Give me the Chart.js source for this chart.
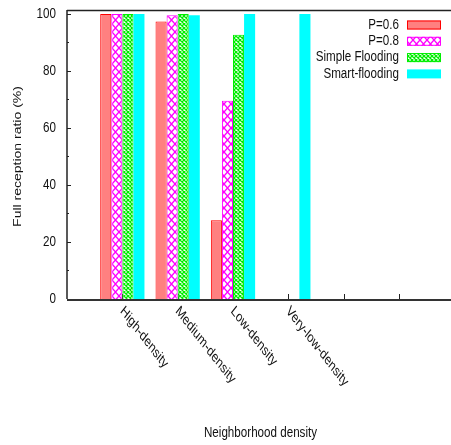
<!DOCTYPE html>
<html>
<head>
<meta charset="utf-8">
<script src="https://cdn.jsdelivr.net/npm/chart.js@4.4.0/dist/chart.umd.min.js"></script>
<style>
  html, body { margin: 0; padding: 0; background: #fff; overflow: hidden; }
  #wrap { width: 451px; height: 445px; }
</style>
</head>
<body>
<div id="wrap"><canvas id="chart" width="451" height="445"></canvas></div>
<script>
// values
const categories = ['High-density', 'Medium-density', 'Low-density', 'Very-low-density', '', ''];
const seriesNames = ['P=0.6', 'P=0.8', 'Simple Flooding', 'Smart-flooding'];
const p06 = [100, 97.4, 27.6, 0, 0, 0];
const p08 = [100, 99.6, 69.6, 0, 0, 0];
const simpleFlooding = [100, 100, 92.7, 0, 0, 0];
const smartFlooding = [100, 99.6, 100, 100, 0, 0];
const yTicks = [0, 20, 40, 60, 80, 100];
const xTitle = 'Neighborhood density';
const yTitle = 'Full reception ratio (%)';

const FONT = '14px "Liberation Sans", Arial, sans-serif';
const SX = 0.83; // gnuplot output looks squeezed sideways

function hatch(color, w, h, lw) {
  const c = document.createElement('canvas');
  c.width = w; c.height = h;
  const g = c.getContext('2d');
  g.fillStyle = '#fff';
  g.fillRect(0, 0, w, h);
  g.strokeStyle = color;
  g.lineWidth = lw;
  g.beginPath();
  g.moveTo(0, 0); g.lineTo(w, h);
  g.moveTo(w, 0); g.lineTo(0, h);
  g.stroke();
  return g.createPattern(c, 'repeat');
}

function text(ctx, s, x, y, align, baseline, angle, sx, font) {
  ctx.save();
  ctx.translate(x, y);
  ctx.scale(sx || SX, 1);
  ctx.rotate(angle || 0);
  ctx.font = font || FONT;
  ctx.fillStyle = '#111';
  ctx.textAlign = align;
  ctx.textBaseline = baseline;
  ctx.fillText(s, 0, 0);
  ctx.restore();
}

const toPoints = arr => arr.map((v, i) => ({ x: i, y: v }));

const gnuplotLook = {
  id: 'gnuplotLook',
  beforeDatasetsDraw(chart) {
    const { ctx, chartArea: a, scales: { x, y } } = chart;
    ctx.save();
    ctx.strokeStyle = '#222';
    ctx.lineWidth = 1;
    yTicks.forEach((v, i) => {
      const py = Math.round(y.getPixelForValue(v)) + 0.5;
      ctx.beginPath(); ctx.moveTo(a.left, py); ctx.lineTo(a.left + 4, py); ctx.stroke();
      if (i < yTicks.length - 1) {
        const my = Math.round(y.getPixelForValue((v + yTicks[i + 1]) / 2)) + 0.5;
        ctx.beginPath(); ctx.moveTo(a.left, my); ctx.lineTo(a.left + 2, my); ctx.stroke();
      }
    });
    categories.forEach((c, i) => {
      const px = Math.round(x.getPixelForValue(i)) + 0.5;
      ctx.beginPath(); ctx.moveTo(px, a.bottom); ctx.lineTo(px, a.bottom - 5); ctx.stroke();
    });
    ctx.restore();
  },
  afterDatasetsDraw(chart) {
    const { ctx, chartArea: a, scales: { x, y } } = chart;
    ctx.save();
    // border: top, left, bottom
    ctx.strokeStyle = '#222';
    ctx.lineWidth = 1.5;
    ctx.beginPath(); ctx.moveTo(a.left, a.top + 0.5); ctx.lineTo(a.right, a.top + 0.5); ctx.stroke();
    ctx.beginPath(); ctx.moveTo(a.left, a.top); ctx.lineTo(a.left, a.bottom); ctx.stroke();
    ctx.strokeStyle = '#333';
    ctx.lineWidth = 2;
    ctx.beginPath(); ctx.moveTo(a.left, a.bottom + 1); ctx.lineTo(a.right, a.bottom + 1); ctx.stroke();

    // tick labels
    yTicks.forEach(v => text(ctx, String(v), a.left - 11, y.getPixelForValue(v) + 0.5, 'right', 'middle'));
    categories.forEach((c, i) => {
      if (c) text(ctx, c, x.getPixelForValue(i) - 0.5, a.bottom + 10, 'left', 'middle', Math.PI / 4, 0.78,
        '14.5px "Liberation Sans", Arial, sans-serif');
    });

    // axis titles
    text(ctx, yTitle, 18, (a.top + a.bottom) / 2 + 2, 'center', 'middle', -Math.PI / 2);
    text(ctx, xTitle, (a.left + a.right) / 2 + 1.5, 433, 'center', 'middle');

    // key, top right inside the plot
    chart.data.datasets.forEach((ds, i) => {
      const cy = a.top + 15 + i * 16.3;
      text(ctx, ds.label, a.right - 52, cy, 'right', 'middle');
      const bx = a.right - 44, bw = 34, bh = 9;
      ctx.fillStyle = ds.backgroundColor;
      ctx.fillRect(bx, cy - bh / 2, bw, bh);
      if (ds.borderWidth) {
        ctx.strokeStyle = ds.borderColor;
        ctx.lineWidth = 1;
        ctx.strokeRect(bx + 0.5, cy - bh / 2 + 0.5, bw - 1, bh - 1);
      }
    });
    ctx.restore();
  }
};

const series = [p06, p08, simpleFlooding, smartFlooding];
const fills = [
  '#ff8080',
  hatch('#ff00ff', 7, 8, 1.4),
  hatch('#00ee00', 4, 4, 1.3),
  '#00ffff'
];
const borders = ['#ff0000', '#ff00ff', '#00ee00', '#00ffff'];

new Chart(document.getElementById('chart'), {
  type: 'bar',
  data: {
    datasets: series.map((s, i) => ({
      label: seriesNames[i],
      data: toPoints(s),
      backgroundColor: fills[i],
      borderColor: borders[i],
      borderWidth: i === 3 ? 0 : 1,
      borderSkipped: 'start',
      categoryPercentage: 0.8,
      barPercentage: 1.0
    }))
  },
  options: {
    responsive: false,
    animation: false,
    layout: { padding: { top: 10, left: 0, right: 0, bottom: 0 } },
    plugins: { legend: { display: false }, tooltip: { enabled: false } },
    scales: {
      x: {
        type: 'linear',
        min: -1,
        max: 5.94,
        offset: false,
        grid: { display: false, offset: false },
        border: { display: false },
        ticks: { display: false, stepSize: 1, includeBounds: false },
        afterFit: s => { s.height = 146; }
      },
      y: {
        min: 0,
        max: 101.4,
        grid: { display: false },
        border: { display: false },
        ticks: { display: false, stepSize: 20 },
        afterFit: s => { s.width = 67; }
      }
    }
  },
  plugins: [gnuplotLook]
});
</script>
</body>
</html>
